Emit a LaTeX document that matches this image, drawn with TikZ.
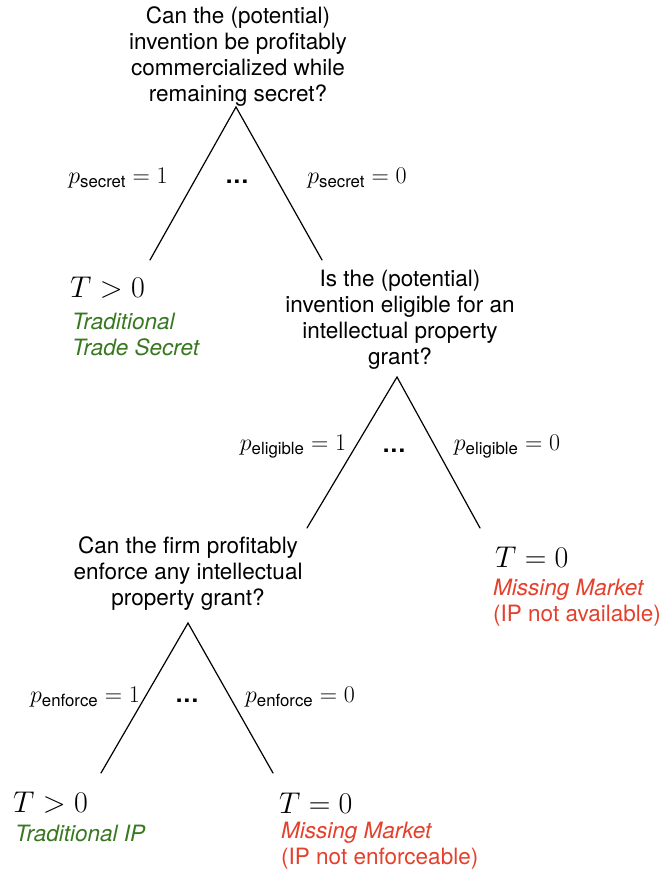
\RequirePackage{fix-cm}
\documentclass[tikz,border=0pt]{standalone}
\usepackage{amsmath}
\usepackage{fontspec}
\setsansfont{TeX Gyre Heros}
\definecolor{okgreen}{RGB}{56,120,32}
\definecolor{badred}{RGB}{228,64,44}
\newcommand\myqfont{\fontsize{22.5}{26}\selectfont\sffamily}
\newcommand\mymfont{\fontsize{30}{36}\selectfont}
\newcommand\mylfont{\fontsize{24}{28}\selectfont}
\newcommand\sub[1]{\text{\sffamily #1}}
\newcommand\mydots{.\kern1.2pt.\kern1.2pt.}
\begin{document}
\begin{tikzpicture}[x=1pt,y=-1pt,
  question/.style={font=\myqfont, align=center, inner sep=0pt},
  outcome/.style={font=\mymfont, anchor=west, inner sep=0pt},
  verdict/.style={font=\myqfont\itshape, align=left, anchor=west, inner sep=0pt},
  problabel/.style={font=\mylfont, inner sep=0pt},
  dotslabel/.style={font=\mylfont\sffamily\bfseries, inner sep=0pt},
  leg/.style={line width=1.2pt, line cap=round}]
\useasboundingbox (0,0) rectangle (672,873);
\fill[white] (0,0) rectangle (672,873);

% first decision
\node[question] (q1) at (238,57) {Can the (potential)\\invention be profitably\\commercialized while\\remaining secret?};
\coordinate (a1) at (236,107);
\coordinate (l1) at (150,260);
\coordinate (r1) at (322,260);
\draw[leg] (l1) -- (a1) -- (r1);
\node[problabel] (p1l) at (118,178) {$p_{\sub{secret}} = 1$};
\node[dotslabel] (p1d) at (237,182) {\mydots};
\node[problabel] (p1r) at (357,178) {$p_{\sub{secret}} = 0$};
\node[outcome] (t1) at (70,288) {$T > 0$};
\node[verdict, text=okgreen] (o1) at (72,334) {Traditional\\Trade Secret};

% second decision
\node[question] (q2) at (400,320) {Is the (potential)\\invention eligible for an\\intellectual property\\grant?};
\coordinate (a2) at (397,377);
\coordinate (l2) at (307,528);
\coordinate (r2) at (480,528);
\draw[leg] (l2) -- (a2) -- (r2);
\node[problabel] (p2l) at (293,447) {$p_{\sub{eligible}} = 1$};
\node[dotslabel] (p2d) at (394,451) {\mydots};
\node[problabel] (p2r) at (507,447) {$p_{\sub{eligible}} = 0$};
\node[outcome] (t2) at (495,557) {$T = 0$};
\node[verdict, text=badred] (o2) at (493,603) {Missing Market\\\upshape(IP not available)};

% third decision
\node[question] (q3) at (188,574) {Can the firm profitably\\enforce any intellectual\\property grant?};
\coordinate (a3) at (188,623);
\coordinate (l3) at (101,773);
\coordinate (r3) at (273,773);
\draw[leg] (l3) -- (a3) -- (r3);
\node[problabel] (p3l) at (85,697) {$p_{\sub{enforce}} = 1$};
\node[dotslabel] (p3d) at (187,701) {\mydots};
\node[problabel] (p3r) at (300,697) {$p_{\sub{enforce}} = 0$};
\node[outcome] (t3) at (13,803) {$T > 0$};
\node[verdict, text=okgreen] (o3) at (15,833) {Traditional IP};
\node[outcome] (t4) at (279,803) {$T = 0$};
\node[verdict, text=badred] (o4) at (281,846) {Missing Market\\\upshape(IP not enforceable)};
\end{tikzpicture}
\end{document}
